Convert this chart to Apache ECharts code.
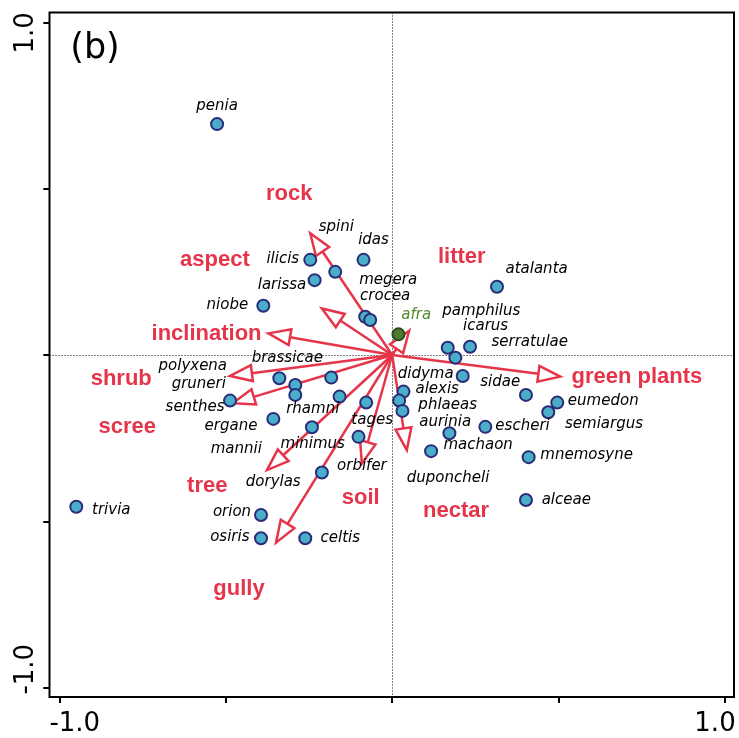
<!DOCTYPE html>
<html><head><meta charset="utf-8">
<script src="https://cdn.jsdelivr.net/npm/echarts@6/dist/echarts.min.js"></script>
<style>html,body{margin:0;padding:0;background:#fff}#c{width:739px;height:738px}</style>
</head><body><div id="c"></div>
<script>
// ---------------- data ----------------
const species = ['penia','ilicis','spini','idas','larissa','niobe','megera','crocea','afra','atalanta',
  'pamphilus','icarus','serratulae','didyma','alexis','aurinia','phlaeas','sidae','eumedon','semiargus',
  'escheri','machaon','duponcheli','mnemosyne','alceae','brassicae','polyxena','gruneri','rhamni','mannii',
  'tages','senthes','ergane','minimus','orbifer','dorylas','orion','osiris','celtis','trivia'];
const speciesAxis1 = [-0.526,-0.246,-0.171,-0.086,-0.233,-0.387,-0.081,-0.066,0.019,0.315,
  0.167,0.190,0.234,0.212,0.034,0.021,0.031,0.402,0.496,0.469,
  0.280,0.172,0.117,0.410,0.402,-0.339,-0.291,-0.291,-0.158,-0.183,
  -0.078,-0.487,-0.357,-0.241,-0.101,-0.211,-0.394,-0.394,-0.261,-0.949];
const speciesAxis2 = [0.694,0.286,0.250,0.286,0.225,0.148,0.115,0.105,0.062,0.205,
  0.022,-0.008,0.025,-0.063,-0.110,-0.137,-0.168,-0.120,-0.143,-0.172,
  -0.216,-0.235,-0.289,-0.307,-0.436,-0.070,-0.090,-0.120,-0.125,-0.068,
  -0.143,-0.137,-0.192,-0.217,-0.246,-0.353,-0.481,-0.551,-0.551,-0.456];
const envVars = ['rock','aspect','inclination','shrub','scree','tree','gully','soil','nectar','green plants','litter'];
const envAxis1 = [-0.246,-0.211,-0.372,-0.487,-0.479,-0.376,-0.349,-0.091,0.044,0.505,0.051];
const envAxis2 = [0.366,0.140,0.065,-0.063,-0.145,-0.346,-0.564,-0.326,-0.286,-0.065,0.073];
const tickValues = [-1, -0.5, 0, 0.5, 1];
const tickLabels = ['-1.0', '', '', '', '1.0'];
const panelLabel = '(b)';
const highlightedSpecies = 'afra';

// ---------------- styling (pixel label offsets) ----------------
const speciesLabelOffset = {
  penia:[0,-17], ilicis:[-27.5,0], spini:[1,-43.4], idas:[10,-18.3], larissa:[-32.6,6], niobe:[-36,0.3],
  megera:[23,-35.7], crocea:[15,-22.7], afra:[17.7,-18.3], atalanta:[39.6,-16.7], pamphilus:[33.6,-36],
  icarus:[30.2,-30.4], serratulae:[59.7,-3.4], didyma:[-37,-1], alexis:[33.7,-1.7], aurinia:[46,22.3],
  phlaeas:[45.2,-4.3], sidae:[-25.7,-11.7], eumedon:[46,0], semiargus:[55.8,12.7], escheri:[37.2,0.6],
  machaon:[28.7,13.4], duponcheli:[17,28], mnemosyne:[58,-1.3], alceae:[40.3,0.7], brassicae:[8,-19],
  polyxena:[-102.5,-18.3], gruneri:[-96.5,-10], rhamni:[-26.8,13.3], mannii:[-95,72.3], tages:[6,19],
  senthes:[-35,7.6], ergane:[-42.3,8.7], minimus:[0.8,17.7], orbifer:[3.4,30], dorylas:[-48.7,10.7],
  orion:[-29,-2], osiris:[-31.2,-0.3], celtis:[35,0.7], trivia:[35,4]
};
const envLabelOffset = {
  'rock':[-21,-39.2], 'aspect':[-107,-48.9], 'inclination':[-61.8,0.6], 'shrub':[-108.8,3.1],
  'scree':[-105.5,24.1], 'tree':[-59.7,15.7], 'gully':[-37,46.4], 'soil':[-1.2,34.1],
  'nectar':[49.3,60.7], 'green plants':[76.7,0.7], 'litter':[52.7,-73.3]
};
const RED = '#e6354a';
const R = 1.0285;

const chart = echarts.init(document.getElementById('c'), null, {renderer:'canvas'});

function tickFmt(v){
  const i = tickValues.indexOf(v);
  if (i < 0 || !tickLabels[i]) return '';
  return (v < 0 ? '{l|' : '{r|') + tickLabels[i] + '}';
}
const tickFont = {fontSize:26, fontFamily:'DejaVu Sans', color:'#000'};

const option = {
  animation:false,
  backgroundColor:'#fff',
  graphic:[{type:'text', x:95, y:48.6, z:10,
    style:{text:panelLabel, font:'35px "DejaVu Sans"', fill:'#000', align:'center', verticalAlign:'middle', textAlign:'center', textVerticalAlign:'middle'}}],
  grid:[
    {left:49.5, right:5, top:12.5, bottom:41, show:true, borderColor:'#000', borderWidth:2, backgroundColor:'transparent', outerBoundsMode:'none', containLabel:false},
    {left:59.3, right:14, top:22.3, bottom:50.3, outerBoundsMode:'none', containLabel:false}
  ],
  xAxis:[
    {gridIndex:0, type:'value', min:-R, max:R, interval:R, axisLine:{show:false, onZero:false}, axisTick:{show:false}, axisLabel:{show:false},
      splitLine:{show:true, lineStyle:{type:[1,2], color:'#000', width:1}}},
    {gridIndex:1, type:'value', min:-1, max:1, interval:0.5, position:'bottom', offset:9.3,
      axisLine:{show:false, onZero:false}, axisTick:{show:true, length:6, lineStyle:{color:'#000', width:2}},
      splitLine:{show:false},
      axisLabel:{show:true, margin:14, showMinLabel:true, showMaxLabel:true, formatter:tickFmt,
        rich:{l:Object.assign({padding:[0,0,0,31]}, tickFont), r:Object.assign({padding:[0,20,0,0]}, tickFont)}}}
  ],
  yAxis:[
    {gridIndex:0, type:'value', min:-R, max:R, interval:R, axisLine:{show:false, onZero:false}, axisTick:{show:false}, axisLabel:{show:false},
      splitLine:{show:true, lineStyle:{type:[1,2], color:'#000', width:1}}},
    {gridIndex:1, type:'value', min:-1, max:1, interval:0.5, position:'left', offset:10,
      axisLine:{show:false, onZero:false}, axisTick:{show:true, length:6, lineStyle:{color:'#000', width:2}},
      splitLine:{show:false},
      axisLabel:{show:true, rotate:90, margin:10, showMinLabel:true, showMaxLabel:true, formatter:tickFmt,
        rich:{l:Object.assign({padding:[0,0,0,37]}, tickFont), r:Object.assign({padding:[0,21,0,0]}, tickFont)}}}
  ],
  series:[
    {
      type:'custom', xAxisIndex:1, yAxisIndex:1, z:2, silent:true,
      data: envVars.map((n,i)=>[envAxis1[i], envAxis2[i]]),
      renderItem:function(params, api){
        const o = api.coord([0,0]);
        const t = api.coord([api.value(0), api.value(1)]);
        const dx = t[0]-o[0], dy = t[1]-o[1];
        const len = Math.hypot(dx,dy);
        const ux = dx/len, uy = dy/len;
        const L = Math.min(22, len*0.85), W = 8;
        const bx = t[0]-ux*L, by = t[1]-uy*L;
        const px = -uy, py = ux;
        const name = envVars[params.dataIndex];
        const off = envLabelOffset[name];
        return {type:'group', children:[
          {type:'line', shape:{x1:o[0], y1:o[1], x2:bx, y2:by}, style:{stroke:RED, lineWidth:2.5}},
          {type:'polygon', shape:{points:[[t[0],t[1]],[bx+px*W,by+py*W],[bx-px*W,by-py*W]]},
            style:{fill:'none', stroke:RED, lineWidth:2.5, lineJoin:'miter'}},
          {type:'text', x:t[0]+off[0], y:t[1]+off[1], z2:20,
            style:{text:name, fill:RED, font:'bold 22px "Liberation Sans"', align:'center', verticalAlign:'middle', textAlign:'center', textVerticalAlign:'middle'}}
        ]};
      }
    },
    {
      type:'scatter', xAxisIndex:1, yAxisIndex:1, z:3, silent:true,
      symbol:'circle', symbolSize:12,
      itemStyle:{color:'#4aaecb', borderColor:'#2a2c78', borderWidth:2, opacity:1},
      emphasis:{disabled:true},
      label:{show:true, position:'inside', formatter:'{b}', fontStyle:'italic', fontSize:15,
        fontFamily:'DejaVu Sans', color:'#000', align:'center', verticalAlign:'middle'},
      data: species.map((n,i)=>{
        const off = speciesLabelOffset[n] || [0,-15];
        const item = {name:n, value:[speciesAxis1[i], speciesAxis2[i]], label:{offset:[off[0], off[1]-1]}};
        if (n === highlightedSpecies){
          item.itemStyle = {color:'#4d7a2c', borderColor:'#2c4a1b'};
          item.label.color = '#4f8a2b';
        }
        return item;
      })
    }
  ]
};
chart.setOption(option);
</script></body></html>
